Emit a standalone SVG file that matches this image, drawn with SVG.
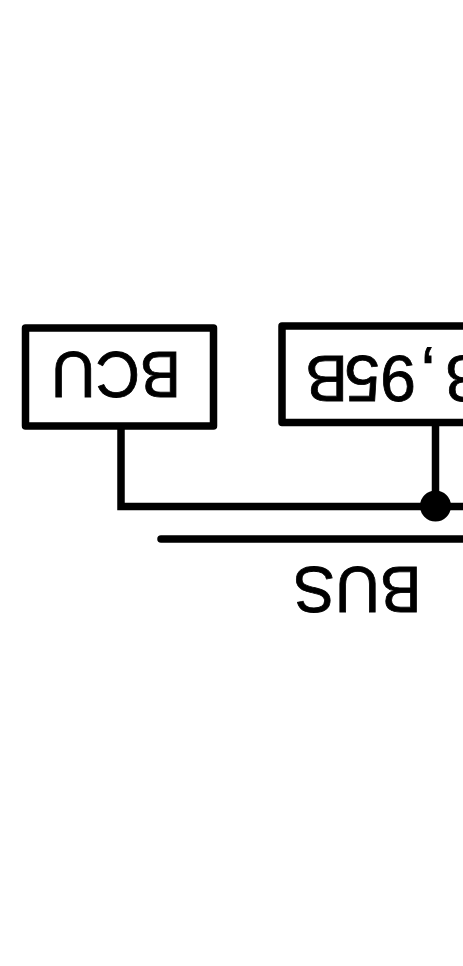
<svg xmlns="http://www.w3.org/2000/svg" width="463" height="966" viewBox="0 0 463 966">
  <style>
    .box { fill: #ffffff; stroke: #000000; stroke-width: 7.5; stroke-linejoin: round; }
    .wire { fill: none; stroke: #000000; stroke-width: 7.5; stroke-linejoin: miter; }
    .bus { fill: none; stroke: #000000; stroke-width: 7.5; stroke-linecap: round; }
    .lbl { font-family: "Liberation Sans", Arial, sans-serif; font-size: 64px; fill: #000000; stroke: #000000; stroke-width: 0.8; }
  </style>
  <rect x="0" y="0" width="463" height="966" fill="#ffffff"/>

  <g id="connectors">
    <path class="wire" d="M121,426 V506.5 H470"/>
    <path class="wire" d="M435.5,422 V506.5"/>
    <circle cx="435.5" cy="506" r="15.5" fill="#000000"/>
  </g>

  <g id="node-bcu">
    <rect class="box" x="25.5" y="328" width="188" height="98"/>
    <text class="lbl" transform="rotate(180)" x="-116" y="-352" text-anchor="middle" textLength="130" lengthAdjust="spacingAndGlyphs">BCU</text>
  </g>

  <g id="node-device">
    <rect class="box" x="282" y="326" width="200" height="96.5"/>
    <text class="lbl" transform="rotate(180)" x="-481 -437 -416 -380 -348" y="-356">8,95B</text>
  </g>

  <g id="node-bus">
    <line class="bus" x1="161" y1="539" x2="470" y2="539"/>
    <text class="lbl" transform="rotate(180)" x="-357.5" y="-567" text-anchor="middle" textLength="128" lengthAdjust="spacingAndGlyphs">BUS</text>
  </g>
</svg>
